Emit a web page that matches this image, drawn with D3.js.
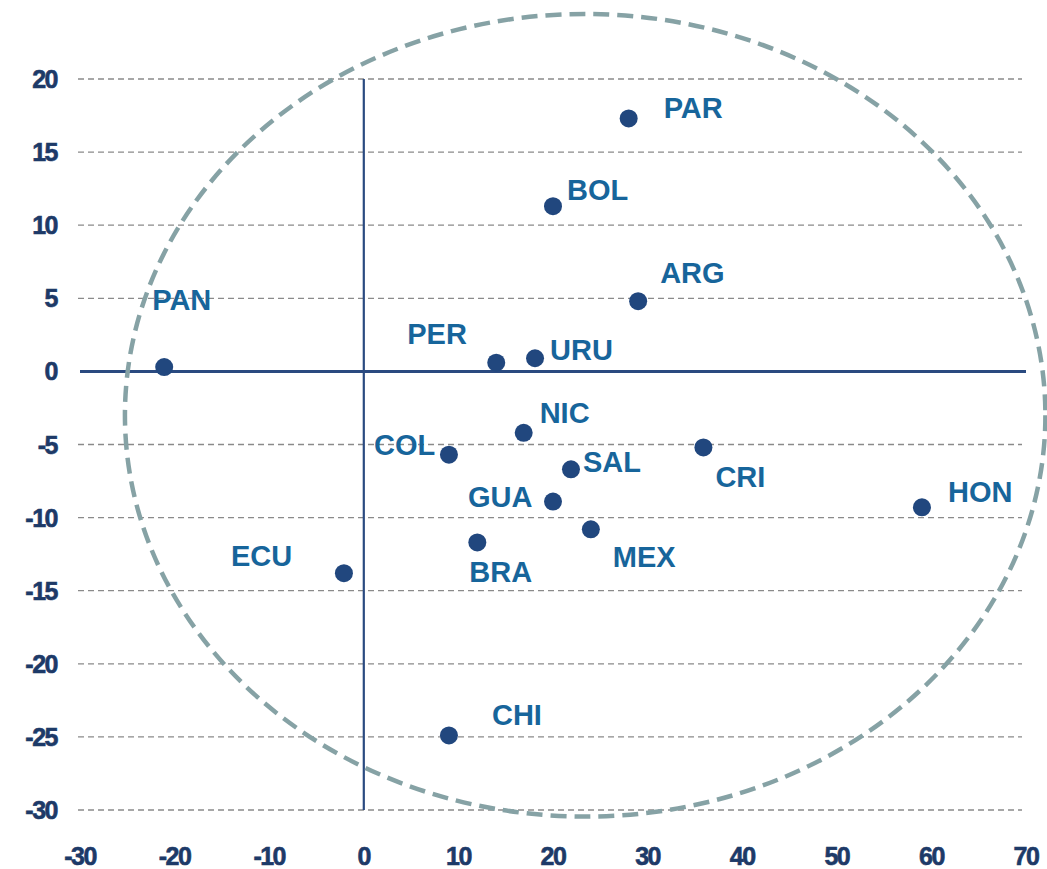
<!DOCTYPE html>
<html>
<head>
<meta charset="utf-8">
<script src="https://cdn.jsdelivr.net/npm/d3@7"></script>
<style>
  html, body { margin: 0; padding: 0; background: #ffffff; }
  svg { display: block; }
</style>
</head>
<body>
<script>
// ---- data ----
const countries = ["PAR","BOL","ARG","PAN","PER","URU","NIC","COL","SAL","CRI","GUA","HON","MEX","BRA","ECU","CHI"];
const xValues   = [28, 20, 29, -21.1, 14, 18.1, 16.9, 9, 21.9, 35.9, 20, 59, 24, 12, -2.1, 9];
const yValues   = [17.3, 11.3, 4.8, 0.3, 0.6, 0.9, -4.2, -5.7, -6.7, -5.2, -8.9, -9.3, -10.8, -11.7, -13.8, -24.9];
// label offsets (pixels) relative to point: [dx, dy] for label's left / baseline
const labelDx   = [35, 14, 22, -12, -89, 15, 16, -75, 12, 12, -85, 26, 22, -8, -113, 43];
const labelDy   = [0, -6, -18, -57, -19, 2, -10, 0, 3, 40, 5, -5, 38, 40, -7, -10];
const xTicks    = [-30, -20, -10, 0, 10, 20, 30, 40, 50, 60, 70];
const yTicks    = [20, 15, 10, 5, 0, -5, -10, -15, -20, -25, -30];
// ellipse annotation in data units: [cx, cy, rx, ry]
const ellipseSpec = [23.4, -3.0, 48.65, 27.45];

// ---- layout ----
const W = 1047, H = 869;
const svg = d3.select("body").append("svg").attr("width", W).attr("height", H);

const x = d3.scaleLinear().domain([-30, 70]).range([80, 1026]);
const y = d3.scaleLinear().domain([-30, 20]).range([810, 79]);

const tickColor = "#1d3a68";
const labelColor = "#17659b";
const axisColor = "#2a4a80";

// gridlines
svg.append("g").selectAll("line").data(yTicks.filter(d => d !== 0)).join("line")
  .attr("x1", 78).attr("x2", 1022)
  .attr("y1", d => y(d)).attr("y2", d => y(d))
  .attr("stroke", "#8a8a8a").attr("stroke-width", 1.3)
  .attr("stroke-dasharray", "6,4");

function tickStyle(sel) {
  sel.attr("font-family", "Liberation Sans, Arial, sans-serif")
    .attr("font-weight", "bold").attr("font-size", 25)
    .attr("letter-spacing", -1.5)
    .attr("fill", tickColor)
    .attr("stroke", tickColor).attr("stroke-width", 0.6);
}

// y tick labels
svg.append("g").selectAll("text").data(yTicks).join("text")
  .attr("x", 57).attr("y", d => y(d)).attr("dy", "0.36em")
  .attr("text-anchor", "end")
  .call(tickStyle)
  .text(d => d);

// x tick labels
svg.append("g").selectAll("text").data(xTicks).join("text")
  .attr("x", d => x(d)).attr("y", 856).attr("dy", "0.36em")
  .attr("text-anchor", "middle")
  .call(tickStyle)
  .text(d => d);

// axes lines through zero
svg.append("line")
  .attr("x1", x(0)).attr("x2", x(0)).attr("y1", y(20)).attr("y2", y(-30))
  .attr("stroke", axisColor).attr("stroke-width", 2.2);
svg.append("line")
  .attr("x1", x(-30)).attr("x2", x(70)).attr("y1", y(0)).attr("y2", y(0))
  .attr("stroke", axisColor).attr("stroke-width", 3);

// ellipse
svg.append("ellipse")
  .attr("cx", x(ellipseSpec[0])).attr("cy", y(ellipseSpec[1]))
  .attr("rx", x(ellipseSpec[0] + ellipseSpec[2]) - x(ellipseSpec[0]))
  .attr("ry", y(ellipseSpec[1]) - y(ellipseSpec[1] + ellipseSpec[3]))
  .attr("fill", "none").attr("stroke", "#86a2a5").attr("stroke-width", 4.5)
  .attr("stroke-dasharray", "16,8");

// points
const pts = countries.map((c, i) => ({ c, x: xValues[i], y: yValues[i], dx: labelDx[i], dy: labelDy[i] }));
svg.append("g").selectAll("circle").data(pts).join("circle")
  .attr("cx", d => x(d.x)).attr("cy", d => y(d.y)).attr("r", 9)
  .attr("fill", "#21477e");

// labels
svg.append("g").selectAll("text").data(pts).join("text")
  .attr("x", d => x(d.x) + d.dx).attr("y", d => y(d.y) + d.dy)
  .attr("font-family", "Liberation Sans, Arial, sans-serif")
  .attr("font-weight", "bold").attr("font-size", 29)
  .attr("fill", labelColor)
  .text(d => d.c);
</script>
</body>
</html>
